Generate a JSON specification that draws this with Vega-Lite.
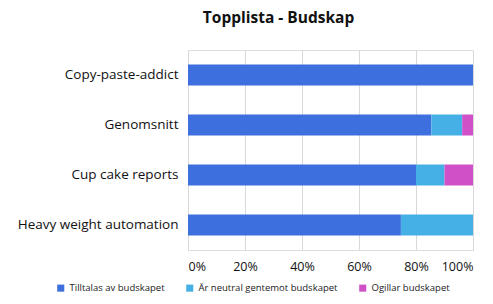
{
  "$schema": "https://vega.github.io/schema/vega-lite/v6.json",
  "width": 285,
  "height": 200,
  "autosize": {"type": "none"},
  "padding": {"left": 188, "top": 50, "right": 20, "bottom": 54},
  "background": "white",
  "title": {"text": "Topplista - Budskap", "font": "Open Sans", "fontSize": 15.5, "fontWeight": "bold", "color": "#111", "anchor": "middle", "frame": "group", "dx": -52, "offset": 24},
  "data": {"values": [
    {"kategori": "Copy-paste-addict", "svar": "Tilltalas av budskapet", "k": 1, "andel": 1.0},
    {"kategori": "Genomsnitt", "svar": "Tilltalas av budskapet", "k": 1, "andel": 0.854},
    {"kategori": "Genomsnitt", "svar": "Är neutral gentemot budskapet", "k": 2, "andel": 0.108},
    {"kategori": "Genomsnitt", "svar": "Ogillar budskapet", "k": 3, "andel": 0.038},
    {"kategori": "Cup cake reports", "svar": "Tilltalas av budskapet", "k": 1, "andel": 0.8},
    {"kategori": "Cup cake reports", "svar": "Är neutral gentemot budskapet", "k": 2, "andel": 0.1},
    {"kategori": "Cup cake reports", "svar": "Ogillar budskapet", "k": 3, "andel": 0.1},
    {"kategori": "Heavy weight automation", "svar": "Tilltalas av budskapet", "k": 1, "andel": 0.747},
    {"kategori": "Heavy weight automation", "svar": "Är neutral gentemot budskapet", "k": 2, "andel": 0.253}
  ]},
  "mark": {"type": "bar"},
  "encoding": {
    "y": {"field": "kategori", "type": "nominal", "sort": ["Copy-paste-addict", "Genomsnitt", "Cup cake reports", "Heavy weight automation"],
      "scale": {"paddingInner": 0.58, "paddingOuter": 0.29},
      "axis": {"title": null, "domain": false, "ticks": false, "labelPadding": 10, "labelFont": "Open Sans", "labelFontSize": 13.5, "labelColor": "#111"}},
    "x": {"field": "andel", "type": "quantitative", "stack": "zero", "scale": {"domain": [0, 1], "nice": false},
      "axis": {"title": null, "format": ".0%", "values": [0, 0.2, 0.4, 0.6, 0.8, 1], "domain": false, "ticks": false, "grid": true, "gridColor": "#d9d9d9", "labelPadding": 10, "labelFont": "Open Sans", "labelFontSize": 12.5, "labelColor": "#111"}},
    "color": {"field": "svar", "type": "nominal",
      "scale": {"domain": ["Tilltalas av budskapet", "Är neutral gentemot budskapet", "Ogillar budskapet"], "range": ["#3D6FDE", "#45B0E5", "#D050C8"]},
      "legend": {"title": null, "orient": "none", "direction": "horizontal", "legendX": -132, "legendY": 233, "symbolType": "square", "symbolSize": 50, "symbolStrokeWidth": 0, "labelFont": "Open Sans", "labelFontSize": 9.5, "labelColor": "#222", "columnPadding": 20, "labelOffset": 4}},
    "order": {"field": "k", "type": "quantitative"}
  }
}
